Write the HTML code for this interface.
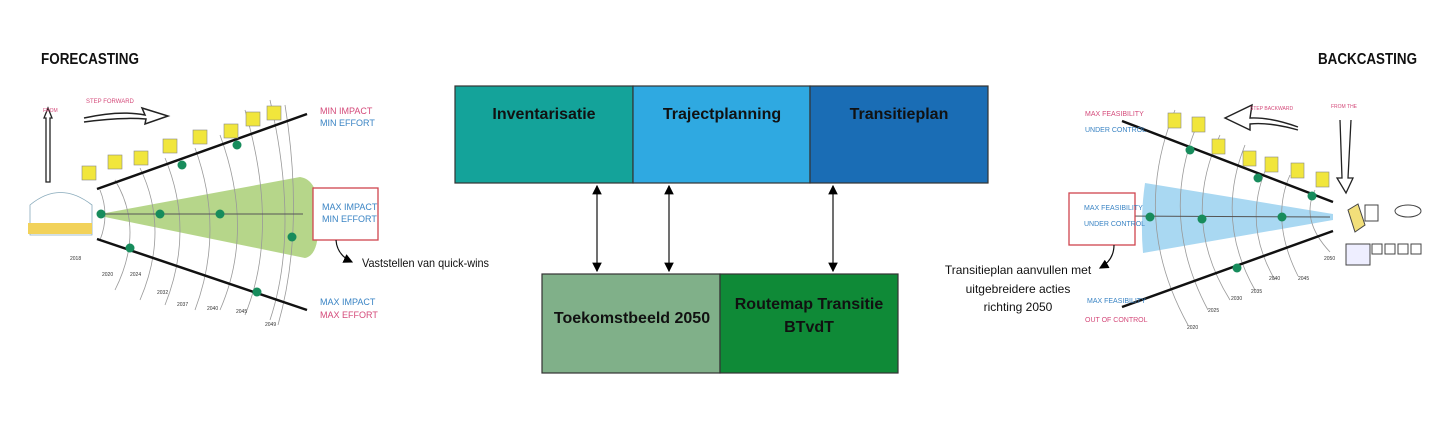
<!DOCTYPE html>
<html><head><style>
body{margin:0;background:#fff;}
svg{display:block;font-family:"Liberation Sans",sans-serif;}
</style></head><body>
<svg width="1443" height="447" viewBox="0 0 1443 447">
<defs>
<marker id="ah" markerWidth="8" markerHeight="8" refX="7" refY="4" orient="auto-start-reverse"><path d="M0,0 L8,4 L0,8 z" fill="#000"/></marker>
</defs>
<rect width="1443" height="447" fill="#fff"/>
<text x="41" y="64" font-size="16" font-weight="bold" fill="#111" textLength="98" lengthAdjust="spacingAndGlyphs">FORECASTING</text>
<text x="1318" y="64" font-size="16" font-weight="bold" fill="#111" textLength="99" lengthAdjust="spacingAndGlyphs">BACKCASTING</text>

<!-- LEFT -->
<path d="M100,214 L300,177 Q320,180 318,218 Q320,255 305,258 L100,216 z" fill="#a9cf75" opacity="0.85"/>
<g fill="none" stroke="#999" stroke-width="0.8">
<path d="M100,190 Q110,215 100,240"/><path d="M115,180 Q145,230 115,290"/><path d="M140,168 Q170,230 140,300"/>
<path d="M165,158 Q195,230 165,305"/><path d="M195,148 Q225,230 195,310"/><path d="M220,135 Q255,230 220,310"/>
<path d="M245,110 Q280,230 245,315"/><path d="M270,100 Q300,230 270,320"/><path d="M285,105 Q305,230 278,325"/>
</g>
<line x1="97" y1="189" x2="307" y2="114" stroke="#111" stroke-width="2.5"/>
<line x1="97" y1="239" x2="307" y2="310" stroke="#111" stroke-width="2.5"/>
<line x1="100" y1="214" x2="303" y2="214" stroke="#555" stroke-width="1"/>
<g fill="#178c5c"><circle cx="101" cy="214" r="4.5"/><circle cx="160" cy="214" r="4.5"/><circle cx="220" cy="214" r="4.5"/><circle cx="292" cy="237" r="4.5"/><circle cx="182" cy="165" r="4.5"/><circle cx="237" cy="145" r="4.5"/><circle cx="130" cy="248" r="4.5"/><circle cx="257" cy="292" r="4.5"/></g>
<g fill="#f1e63c" stroke="#888" stroke-width="0.6">
<rect x="82" y="166" width="14" height="14"/><rect x="108" y="155" width="14" height="14"/><rect x="134" y="151" width="14" height="14"/><rect x="163" y="139" width="14" height="14"/><rect x="193" y="130" width="14" height="14"/><rect x="224" y="124" width="14" height="14"/><rect x="246" y="112" width="14" height="14"/><rect x="267" y="106" width="14" height="14"/></g>
<path d="M30,205 Q60,180 92,205 L92,235 L30,235z" fill="none" stroke="#8ab" stroke-width="0.8"/>
<rect x="28" y="223" width="64" height="11" fill="#f2d25a"/>
<path d="M48,108 L52,118 L50,118 L50,182 L46,182 L46,118 L44,118z" fill="none" stroke="#222" stroke-width="1.3"/>
<path d="M84,118 Q120,110 145,115 L142,108 L168,116 L145,124 L146,119 Q120,117 84,122" fill="none" stroke="#222" stroke-width="1.5"/>
<text x="86" y="103" font-size="6" fill="#d44a7a">STEP FORWARD</text>
<text x="43" y="112" font-size="5" fill="#d44a7a">FROM</text>
<text x="320" y="114" font-size="9" fill="#d44a7a">MIN IMPACT</text>
<text x="320" y="126" font-size="9" fill="#3a84c4">MIN EFFORT</text>
<text x="320" y="305" font-size="9" fill="#3a84c4">MAX IMPACT</text>
<text x="320" y="318" font-size="9" fill="#d44a7a">MAX EFFORT</text>
<rect x="313" y="188" width="65" height="52" fill="#fff" stroke="#d0454f" stroke-width="1.3"/>
<text x="322" y="210" font-size="9" fill="#3a84c4">MAX IMPACT</text>
<text x="322" y="222" font-size="9" fill="#3a84c4">MIN EFFORT</text>
<path d="M336,240 Q337,255 352,262" fill="none" stroke="#111" stroke-width="1.2" marker-end="url(#ah)"/>
<text x="362" y="267" font-size="12" fill="#111" textLength="127" lengthAdjust="spacingAndGlyphs">Vaststellen van quick-wins</text>
<g font-size="5" fill="#333"><text x="70" y="260">2018</text><text x="102" y="276">2020</text><text x="130" y="276">2024</text><text x="157" y="294">2032</text><text x="177" y="306">2037</text><text x="207" y="310">2040</text><text x="236" y="313">2045</text><text x="265" y="326">2049</text></g>

<!-- CENTER -->
<g stroke="#333" stroke-width="1.2">
<rect x="455" y="86" width="178" height="97" fill="#14a39a"/>
<rect x="633" y="86" width="177" height="97" fill="#2fa9e1"/>
<rect x="810" y="86" width="178" height="97" fill="#1a6db5"/>
<rect x="542" y="274" width="178" height="99" fill="#80b089"/>
<rect x="720" y="274" width="178" height="99" fill="#0f8a37"/>
</g>
<g font-size="16" font-weight="bold" fill="#111" text-anchor="middle">
<text x="544" y="119">Inventarisatie</text>
<text x="722" y="119">Trajectplanning</text>
<text x="899" y="119">Transitieplan</text>
<text x="632" y="323">Toekomstbeeld 2050</text>
<text x="809" y="309">Routemap Transitie</text>
<text x="809" y="332">BTvdT</text>
</g>
<g stroke="#111" stroke-width="1.2" marker-start="url(#ah)" marker-end="url(#ah)">
<line x1="597" y1="186" x2="597" y2="271"/>
<line x1="669" y1="186" x2="669" y2="271"/>
<line x1="833" y1="186" x2="833" y2="271"/>
</g>

<!-- RIGHT -->
<path d="M1145,183 Q1140,218 1143,253 L1333,220 L1333,214 z" fill="#a9d8f2"/>
<g fill="none" stroke="#999" stroke-width="0.8">
<path d="M1175,110 Q1130,220 1188,325"/><path d="M1195,130 Q1160,220 1208,310"/><path d="M1220,135 Q1180,220 1230,300"/>
<path d="M1245,145 Q1215,220 1255,290"/><path d="M1270,160 Q1240,220 1275,280"/><path d="M1290,175 Q1270,220 1298,276"/><path d="M1315,190 Q1300,220 1330,252"/>
</g>
<line x1="1122" y1="121" x2="1333" y2="202" stroke="#111" stroke-width="2.5"/>
<line x1="1122" y1="307" x2="1333" y2="231" stroke="#111" stroke-width="2.5"/>
<line x1="1127" y1="216" x2="1330" y2="217" stroke="#555" stroke-width="1"/>
<g fill="#178c5c"><circle cx="1150" cy="217" r="4.5"/><circle cx="1202" cy="219" r="4.5"/><circle cx="1282" cy="217" r="4.5"/><circle cx="1190" cy="150" r="4.5"/><circle cx="1258" cy="178" r="4.5"/><circle cx="1312" cy="196" r="4.5"/><circle cx="1237" cy="268" r="4.5"/></g>
<g fill="#f1e63c" stroke="#888" stroke-width="0.6">
<rect x="1168" y="113" width="13" height="15"/><rect x="1192" y="117" width="13" height="15"/><rect x="1212" y="139" width="13" height="15"/><rect x="1243" y="151" width="13" height="15"/><rect x="1265" y="157" width="13" height="15"/><rect x="1291" y="163" width="13" height="15"/><rect x="1316" y="172" width="13" height="15"/></g>
<path d="M1298,127 Q1270,117 1250,118 L1252,105 L1225,118 L1250,130 L1250,124 Q1270,122 1298,130" fill="none" stroke="#222" stroke-width="1.4"/>
<path d="M1340,120 L1342,178 L1337,178 L1346,193 L1353,178 L1348,178 L1351,120" fill="none" stroke="#222" stroke-width="1.3"/>
<text x="1250" y="110" font-size="5" fill="#d44a7a">STEP BACKWARD</text>
<text x="1331" y="108" font-size="5" fill="#d44a7a">FROM THE</text>
<g fill="none" stroke="#444" stroke-width="1">
<path d="M1348,210 L1358,204 L1365,225 L1355,232z" fill="#f2df7a"/><rect x="1365" y="205" width="13" height="16"/><ellipse cx="1408" cy="211" rx="13" ry="6"/>
<rect x="1346" y="244" width="24" height="21" fill="#eef"/><rect x="1372" y="244" width="10" height="10"/><rect x="1385" y="244" width="10" height="10"/><rect x="1398" y="244" width="10" height="10"/><rect x="1411" y="244" width="10" height="10"/>
</g>
<g font-size="5" fill="#333"><text x="1324" y="260">2050</text><text x="1269" y="280">2040</text><text x="1298" y="280">2045</text><text x="1251" y="293">2035</text><text x="1231" y="300">2030</text><text x="1208" y="312">2025</text><text x="1187" y="329">2020</text></g>
<text x="1085" y="116" font-size="7" fill="#d44a7a">MAX FEASIBILITY</text>
<text x="1085" y="132" font-size="7" fill="#3a84c4">UNDER CONTROL</text>
<text x="1087" y="303" font-size="7" fill="#3a84c4">MAX FEASIBILITY</text>
<text x="1085" y="322" font-size="7" fill="#d44a7a">OUT OF CONTROL</text>
<rect x="1069" y="193" width="66" height="52" fill="#fff" stroke="#d0454f" stroke-width="1.3"/>
<text x="1084" y="210" font-size="7" fill="#3a84c4">MAX FEASIBILITY</text>
<text x="1084" y="226" font-size="7" fill="#3a84c4">UNDER CONTROL</text>
<path d="M1114,245 Q1114,260 1100,268" fill="none" stroke="#111" stroke-width="1.2" marker-end="url(#ah)"/>
<g font-size="12" fill="#111" text-anchor="middle">
<text x="1018" y="274">Transitieplan aanvullen met</text>
<text x="1018" y="293">uitgebreidere acties</text>
<text x="1018" y="311">richting 2050</text>
</g>
</svg>
</body></html>
